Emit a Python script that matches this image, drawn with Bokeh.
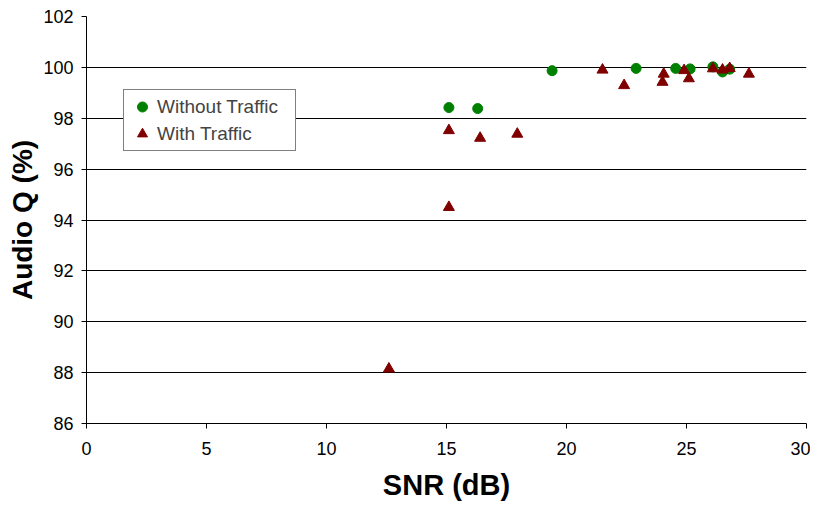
from bokeh.plotting import figure
from bokeh.models import FixedTicker, Range1d, Legend, LegendItem
from bokeh.embed import file_html
from bokeh.resources import INLINE

# Audio quality vs SNR
snr_no_traffic = [15.1, 16.3, 19.4, 22.9, 24.55, 25.15, 26.1, 26.5, 26.8]
q_no_traffic = [98.42, 98.38, 99.87, 99.96, 99.96, 99.94, 100.02, 99.82, 99.93]

snr_traffic = [12.6, 15.1, 15.1, 16.4, 17.95, 21.5, 22.4, 24.0, 24.05,
               24.9, 25.1, 26.1, 26.5, 26.8, 27.6]
q_traffic = [88.15, 94.5, 97.52, 97.22, 97.38, 99.9, 99.29, 99.42, 99.74,
             99.88, 99.56, 99.95, 99.9, 99.96, 99.74]

x_ticks = [0, 5, 10, 15, 20, 25, 30]
y_ticks = [86, 88, 90, 92, 94, 96, 98, 100, 102]

FONT = "Liberation Sans"

p = figure(width=810, height=506, output_backend="svg", toolbar_location=None,
           x_range=Range1d(0, 30), y_range=Range1d(86, 102),
           min_border_left=86, min_border_right=4, min_border_top=16,
           min_border_bottom=83)
p.outline_line_color = None

r1 = p.scatter(snr_no_traffic, q_no_traffic, marker="circle", size=10,
               fill_color="#008000", line_color="#008000")
r2 = p.scatter(snr_traffic, q_traffic, marker="triangle", size=11,
               fill_color="#800000", line_color="#800000")

p.xaxis.ticker = FixedTicker(ticks=x_ticks)
p.yaxis.ticker = FixedTicker(ticks=y_ticks)
p.xgrid.grid_line_color = None
p.ygrid.ticker = FixedTicker(ticks=y_ticks)
p.ygrid.grid_line_color = "black"
p.ygrid.grid_line_width = 1

for ax in (p.xaxis, p.yaxis):
    ax.axis_line_color = "black"
    ax.major_tick_line_color = "black"
    ax.major_tick_out = 5
    ax.major_tick_in = 0
    ax.minor_tick_line_color = None
    ax.major_label_text_font = FONT
    ax.major_label_text_font_size = "18px"
    ax.major_label_text_color = "black"
    ax.axis_label_text_font = FONT
    ax.axis_label_text_font_style = "bold"
    ax.axis_label_text_color = "black"

p.xaxis.axis_label = "SNR (dB)"
p.xaxis.axis_label_text_font_size = "29px"
p.xaxis.major_label_standoff = 13
p.xaxis.axis_label_standoff = 11
p.yaxis.axis_label = "Audio Q (%)"
p.yaxis.axis_label_text_font_size = "28px"
p.yaxis.major_label_standoff = 8
p.yaxis.axis_label_standoff = 2

legend = Legend(items=[LegendItem(label="Without Traffic", renderers=[r1]),
                       LegendItem(label="With Traffic", renderers=[r2])],
                location=(37, 272))
legend.border_line_color = "black"
legend.border_line_width = 1
legend.background_fill_color = "white"
legend.background_fill_alpha = 1
legend.label_text_font = FONT
legend.label_text_font_size = "19px"
legend.label_height = 25
legend.label_width = 134
legend.label_standoff = 1
legend.glyph_width = 28
legend.glyph_height = 25
legend.padding = 4
legend.spacing = 2
legend.margin = 0
p.add_layout(legend)

open("out.html", "w").write(file_html(p, INLINE))
